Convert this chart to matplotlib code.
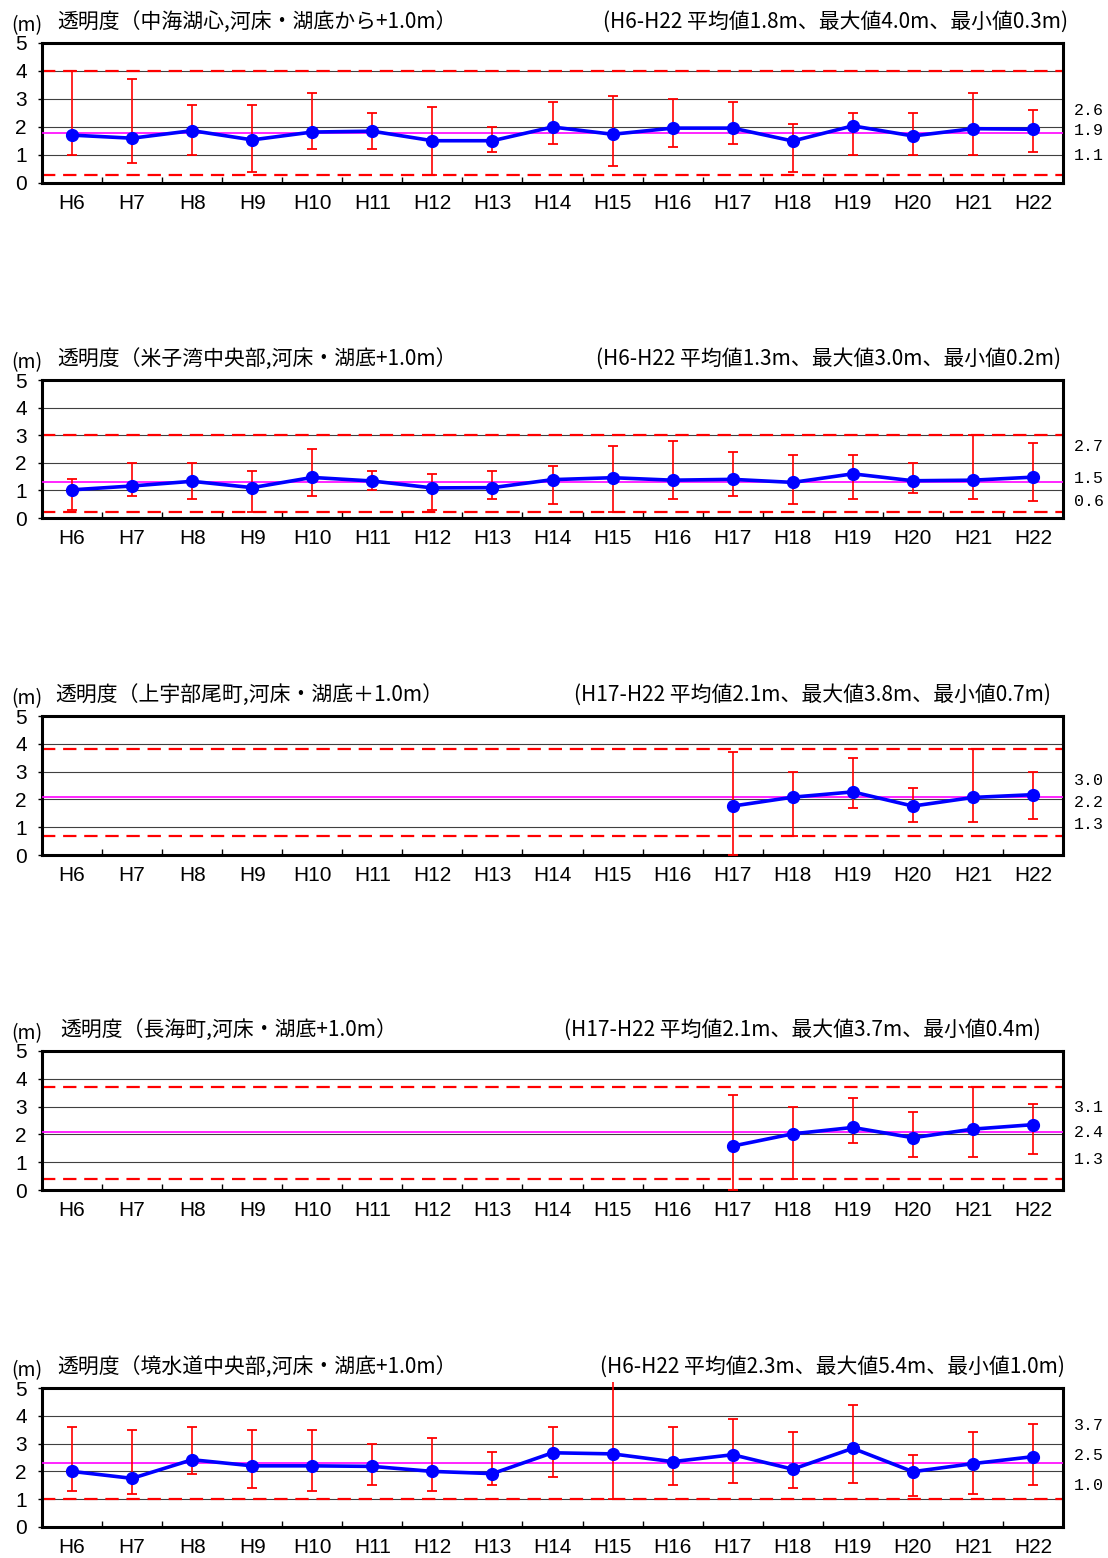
import numpy as np
import matplotlib
matplotlib.use("Agg")
import matplotlib.pyplot as plt
from matplotlib import font_manager as fm

# categories (fiscal years)
YEARS = ['H6', 'H7', 'H8', 'H9', 'H10', 'H11', 'H12', 'H13', 'H14',
         'H15', 'H16', 'H17', 'H18', 'H19', 'H20', 'H21', 'H22']

TITLES = [
    '透明度（中海湖心,河床・湖底から+1.0m）',
    '透明度（米子湾中央部,河床・湖底+1.0m）',
    '透明度（上宇部尾町,河床・湖底＋1.0m）',
    '透明度（長海町,河床・湖底+1.0m）',
    '透明度（境水道中央部,河床・湖底+1.0m）',
]
PERIODS = ['H6-H22', 'H6-H22', 'H17-H22', 'H17-H22', 'H6-H22']
AVG_ALL = [1.8, 1.3, 2.1, 2.1, 2.3]
MAX_ALL = [4.0, 3.0, 3.8, 3.7, 5.4]
MIN_ALL = [0.3, 0.2, 0.7, 0.4, 1.0]

NA = [None] * 11

# annual mean / max / min per station
mean1 = [1.71, 1.6, 1.87, 1.54, 1.82, 1.85, 1.51, 1.51, 2.0, 1.74, 1.96, 1.96, 1.5, 2.04, 1.68, 1.94, 1.92]
hi1 = [4.0, 3.7, 2.8, 2.8, 3.2, 2.5, 2.7, 2.0, 2.9, 3.1, 3.0, 2.9, 2.1, 2.5, 2.5, 3.2, 2.6]
lo1 = [1.0, 0.7, 1.0, 0.4, 1.2, 1.2, 0.3, 1.1, 1.4, 0.6, 1.3, 1.4, 0.4, 1.0, 1.0, 1.0, 1.1]

mean2 = [1.02, 1.16, 1.33, 1.1, 1.47, 1.34, 1.09, 1.1, 1.39, 1.46, 1.37, 1.4, 1.29, 1.6, 1.35, 1.37, 1.48]
hi2 = [1.4, 2.0, 2.0, 1.7, 2.5, 1.7, 1.6, 1.7, 1.9, 2.6, 2.8, 2.4, 2.3, 2.3, 2.0, 3.0, 2.7]
lo2 = [0.3, 0.8, 0.7, 0.2, 0.8, 1.0, 0.3, 0.7, 0.5, 0.2, 0.7, 0.8, 0.5, 0.7, 0.9, 0.7, 0.6]

mean3 = NA + [1.76, 2.08, 2.27, 1.76, 2.07, 2.17]
hi3 = NA + [3.7, 3.0, 3.5, 2.4, 3.8, 3.0]
lo3 = NA + [0.0, 0.7, 1.7, 1.2, 1.2, 1.3]

mean4 = NA + [1.58, 2.02, 2.25, 1.88, 2.19, 2.35]
hi4 = NA + [3.4, 3.0, 3.3, 2.8, 3.7, 3.1]
lo4 = NA + [0.0, 0.4, 1.7, 1.2, 1.2, 1.3]

mean5 = [2.0, 1.75, 2.42, 2.2, 2.2, 2.18, 2.0, 1.92, 2.67, 2.63, 2.35, 2.6, 2.08, 2.83, 1.99, 2.28, 2.53]
hi5 = [3.6, 3.5, 3.6, 3.5, 3.5, 3.0, 3.2, 2.7, 3.6, 5.4, 3.6, 3.9, 3.4, 4.4, 2.6, 3.4, 3.7]
lo5 = [1.3, 1.2, 1.9, 1.4, 1.3, 1.5, 1.3, 1.5, 1.8, 1.0, 1.5, 1.6, 1.4, 1.6, 1.1, 1.2, 1.5]

MEANS = [mean1, mean2, mean3, mean4, mean5]
HIS = [hi1, hi2, hi3, hi4, hi5]
LOS = [lo1, lo2, lo3, lo4, lo5]

# small labels at right of each panel
SIDE_LABELS = [['2.6', '1.9', '1.1'], ['2.7', '1.5', '0.6'], ['3.0', '2.2', '1.3'],
               ['3.1', '2.4', '1.3'], ['3.7', '2.5', '1.0']]
SIDE_Y = [[2.6, 1.86, 1.0], [2.6, 1.43, 0.6], [2.68, 1.89, 1.1],
          [2.96, 2.07, 1.1], [3.64, 2.57, 1.5]]
# right edge of the stats text (axes fraction)
STAT_X = [1.005, 0.998, 0.988, 0.978, 1.002]
TITLE_X = [0.0147, 0.0147, 0.0127, 0.0176, 0.0147]

YMAX = 5

names = {f.name for f in fm.fontManager.ttflist}
if 'Liberation Sans Narrow' in names:
    NARROW = 'Liberation Sans Narrow'
elif 'Liberation Sans' in names:
    NARROW = 'Liberation Sans'
else:
    NARROW = 'DejaVu Sans'
JP = ['Noto Sans CJK JP', 'DejaVu Sans']

W, H = 1108, 1558
fig = plt.figure(figsize=(W / 100, H / 100), dpi=100)

tops = [43, 380, 716, 1051, 1388]
bottoms = [183, 518, 855, 1190, 1527]
left_px, right_px = 42, 1063


def as_arr(v):
    return np.array([np.nan if x is None else x for x in v], dtype=float)


for k in range(5):
    top, bot = tops[k], bottoms[k]
    ax = fig.add_axes([left_px / W, 1 - bot / H, (right_px - left_px) / W, (bot - top) / H])
    x = np.arange(len(YEARS))
    m, hi, lo = as_arr(MEANS[k]), as_arr(HIS[k]), as_arr(LOS[k])

    ax.set_xlim(-0.5, len(YEARS) - 0.5)
    ax.set_ylim(0, YMAX)

    for g in range(1, YMAX):
        ax.axhline(g, color='#404040', lw=0.8, zorder=1)
    ax.axhline(MAX_ALL[k], color='#FF0000', lw=1.6, ls=(0, (6, 3.5)), zorder=2)
    ax.axhline(MIN_ALL[k], color='#FF0000', lw=1.6, ls=(0, (6, 3.5)), zorder=2)
    ax.axhline(AVG_ALL[k], color='#FF00FF', lw=1.2, zorder=3)

    ok = ~np.isnan(m)
    top_line = np.minimum(hi[ok], YMAX + 0.2)
    ax.vlines(x[ok], lo[ok], top_line, color='#FF0000', lw=1.2, zorder=4, clip_on=False)
    capped = ok & (hi <= YMAX)
    ax.plot(x[capped], hi[capped], ls='none', marker='_', ms=7, mew=1.3, color='#FF0000', zorder=4)
    ax.plot(x[ok], lo[ok], ls='none', marker='_', ms=7, mew=1.3, color='#FF0000', zorder=4, clip_on=False)

    ax.plot(x[ok], m[ok], color='#0000FF', lw=2.6, marker='o', ms=8.5, zorder=5)

    for sp in ax.spines.values():
        sp.set_linewidth(2.2)
        sp.set_color('black')

    ax.set_xticks(x)
    ax.set_xticklabels(YEARS, family=NARROW, fontsize=15)
    ax.set_xticks(np.arange(0.5, len(YEARS) - 1, 1), minor=True)
    ax.tick_params(axis='x', which='major', length=0, pad=8)
    ax.tick_params(axis='x', which='minor', direction='in', length=4, width=1)
    ax.set_yticks(range(0, YMAX + 1))
    ax.set_yticklabels([str(v) for v in range(0, YMAX + 1)], family=NARROW, fontsize=15)
    ax.tick_params(axis='y', length=3, width=1, pad=8)

    for lab, yy in zip(SIDE_LABELS[k], SIDE_Y[k]):
        ax.text(1.011, yy, lab, transform=ax.get_yaxis_transform(), family='Liberation Mono',
                fontsize=12, va='center', ha='left')

    ax.text(TITLE_X[k], 1 + 21 / (bot - top), TITLES[k], transform=ax.transAxes,
            family=JP, fontsize=15, va='center', ha='left')
    stat = f'({PERIODS[k]} 平均値{AVG_ALL[k]:.1f}m、最大値{MAX_ALL[k]:.1f}m、最小値{MIN_ALL[k]:.1f}m)'
    ax.text(STAT_X[k], 1 + 21 / (bot - top), stat, transform=ax.transAxes,
            family=JP, fontsize=15, va='center', ha='right')
    ax.text(-15 / (right_px - left_px), 1 + 17 / (bot - top), '(m)', transform=ax.transAxes,
            family=JP, fontsize=14, va='center', ha='center')

fig.savefig('out.png', dpi=100)
